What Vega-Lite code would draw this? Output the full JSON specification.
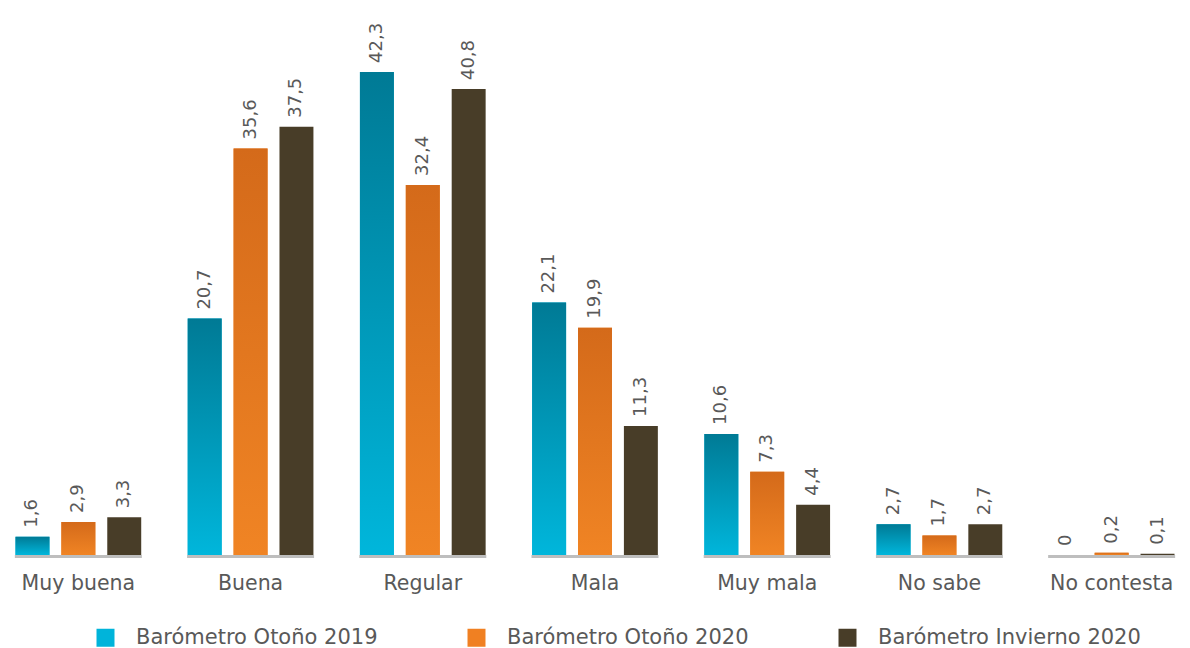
{
  "$schema": "https://vega.github.io/schema/vega-lite/v6.json",
  "autosize": {"type": "none"},
  "width": 1190,
  "height": 555,
  "padding": {"left": 0, "top": 0, "right": 0, "bottom": 93},
  "background": "white",
  "config": {
    "view": {"stroke": null},
    "font": "DejaVu Sans",
    "locale": {"number": {"decimal": ",", "thousands": ".", "grouping": [3], "currency": ["", " €"]}}
  },
  "data": {
    "values": [
      {"categoria": "Muy buena", "serie": "Barómetro Otoño 2019", "valor": 1.6},
      {"categoria": "Muy buena", "serie": "Barómetro Otoño 2020", "valor": 2.9},
      {"categoria": "Muy buena", "serie": "Barómetro Invierno 2020", "valor": 3.3},
      {"categoria": "Buena", "serie": "Barómetro Otoño 2019", "valor": 20.7},
      {"categoria": "Buena", "serie": "Barómetro Otoño 2020", "valor": 35.6},
      {"categoria": "Buena", "serie": "Barómetro Invierno 2020", "valor": 37.5},
      {"categoria": "Regular", "serie": "Barómetro Otoño 2019", "valor": 42.3},
      {"categoria": "Regular", "serie": "Barómetro Otoño 2020", "valor": 32.4},
      {"categoria": "Regular", "serie": "Barómetro Invierno 2020", "valor": 40.8},
      {"categoria": "Mala", "serie": "Barómetro Otoño 2019", "valor": 22.1},
      {"categoria": "Mala", "serie": "Barómetro Otoño 2020", "valor": 19.9},
      {"categoria": "Mala", "serie": "Barómetro Invierno 2020", "valor": 11.3},
      {"categoria": "Muy mala", "serie": "Barómetro Otoño 2019", "valor": 10.6},
      {"categoria": "Muy mala", "serie": "Barómetro Otoño 2020", "valor": 7.3},
      {"categoria": "Muy mala", "serie": "Barómetro Invierno 2020", "valor": 4.4},
      {"categoria": "No sabe", "serie": "Barómetro Otoño 2019", "valor": 2.7},
      {"categoria": "No sabe", "serie": "Barómetro Otoño 2020", "valor": 1.7},
      {"categoria": "No sabe", "serie": "Barómetro Invierno 2020", "valor": 2.7},
      {"categoria": "No contesta", "serie": "Barómetro Otoño 2019", "valor": 0},
      {"categoria": "No contesta", "serie": "Barómetro Otoño 2020", "valor": 0.2},
      {"categoria": "No contesta", "serie": "Barómetro Invierno 2020", "valor": 0.1}
    ]
  },
  "encoding": {
    "x": {
      "field": "categoria",
      "type": "nominal",
      "sort": ["Muy buena", "Buena", "Regular", "Mala", "Muy mala", "No sabe", "No contesta"],
      "scale": {"paddingInner": 0.27, "paddingOuter": 0.09},
      "axis": {
        "title": null,
        "labelAngle": 0,
        "domain": false,
        "ticks": false,
        "labelFontSize": 20.5,
        "labelColor": "#595959",
        "labelPadding": 18
      }
    }
  },
  "layer": [
    {
      "transform": [{"filter": "datum.serie == 'Barómetro Otoño 2019'"}],
      "mark": {"type": "tick", "orient": "horizontal", "thickness": 3, "size": 127, "color": "#a3a3a3", "yOffset": 1.5},
      "encoding": {
        "y": {"datum": 0, "type": "quantitative", "scale": {"domain": [0, 48.6]}, "axis": null}
      }
    },
    {
      "mark": {"type": "bar"},
      "encoding": {
        "xOffset": {
          "field": "serie",
          "type": "nominal",
          "sort": ["Barómetro Otoño 2019", "Barómetro Otoño 2020", "Barómetro Invierno 2020"],
          "scale": {"paddingInner": 0.26, "paddingOuter": 0}
        },
        "y": {"field": "valor", "type": "quantitative", "scale": {"domain": [0, 48.6]}, "axis": null},
        "color": {
          "field": "serie",
          "type": "nominal",
          "sort": ["Barómetro Otoño 2019", "Barómetro Otoño 2020", "Barómetro Invierno 2020"],
          "scale": {
            "domain": ["Barómetro Otoño 2019", "Barómetro Otoño 2020", "Barómetro Invierno 2020"],
            "range": ["#00b4da", "#f08022", "#483d28"]
          },
          "legend": {
            "title": null,
            "orient": "none",
            "direction": "horizontal",
            "legendX": 95,
            "legendY": 627,
            "symbolType": "square",
            "symbolSize": 324,
            "symbolStrokeWidth": 0,
            "labelFontSize": 21,
            "labelColor": "#595959",
            "labelOffset": 20,
            "columnPadding": 88,
            "labelLimit": 400
          }
        }
      }
    },
    {
      "transform": [{"filter": "datum.serie == 'Barómetro Otoño 2019'"}],
      "mark": {
        "type": "bar",
        "color": {
          "gradient": "linear",
          "x1": 0, "y1": 0, "x2": 0, "y2": 1,
          "stops": [
            {"offset": 0, "color": "#007a95"},
            {"offset": 1, "color": "#00b6db"}
          ]
        }
      },
      "encoding": {
        "xOffset": {
          "field": "serie",
          "type": "nominal",
          "sort": ["Barómetro Otoño 2019", "Barómetro Otoño 2020", "Barómetro Invierno 2020"],
          "scale": {"domain": ["Barómetro Otoño 2019", "Barómetro Otoño 2020", "Barómetro Invierno 2020"], "paddingInner": 0.26, "paddingOuter": 0}
        },
        "y": {"field": "valor", "type": "quantitative", "scale": {"domain": [0, 48.6]}, "axis": null}
      }
    },
    {
      "transform": [{"filter": "datum.serie == 'Barómetro Otoño 2020'"}],
      "mark": {
        "type": "bar",
        "color": {
          "gradient": "linear",
          "x1": 0, "y1": 0, "x2": 0, "y2": 1,
          "stops": [
            {"offset": 0, "color": "#d46a1a"},
            {"offset": 1, "color": "#f08424"}
          ]
        }
      },
      "encoding": {
        "xOffset": {
          "field": "serie",
          "type": "nominal",
          "sort": ["Barómetro Otoño 2019", "Barómetro Otoño 2020", "Barómetro Invierno 2020"],
          "scale": {"domain": ["Barómetro Otoño 2019", "Barómetro Otoño 2020", "Barómetro Invierno 2020"], "paddingInner": 0.26, "paddingOuter": 0}
        },
        "y": {"field": "valor", "type": "quantitative", "scale": {"domain": [0, 48.6]}, "axis": null}
      }
    },
    {
      "mark": {
        "type": "text",
        "angle": 270,
        "align": "left",
        "baseline": "middle",
        "dx": 9,
        "fontSize": 18,
        "color": "#595959"
      },
      "encoding": {
        "xOffset": {
          "field": "serie",
          "type": "nominal",
          "sort": ["Barómetro Otoño 2019", "Barómetro Otoño 2020", "Barómetro Invierno 2020"],
          "scale": {"domain": ["Barómetro Otoño 2019", "Barómetro Otoño 2020", "Barómetro Invierno 2020"], "paddingInner": 0.26, "paddingOuter": 0}
        },
        "y": {"field": "valor", "type": "quantitative", "scale": {"domain": [0, 48.6]}, "axis": null},
        "text": {"field": "valor", "type": "quantitative", "format": ".3~g"}
      }
    }
  ]
}
